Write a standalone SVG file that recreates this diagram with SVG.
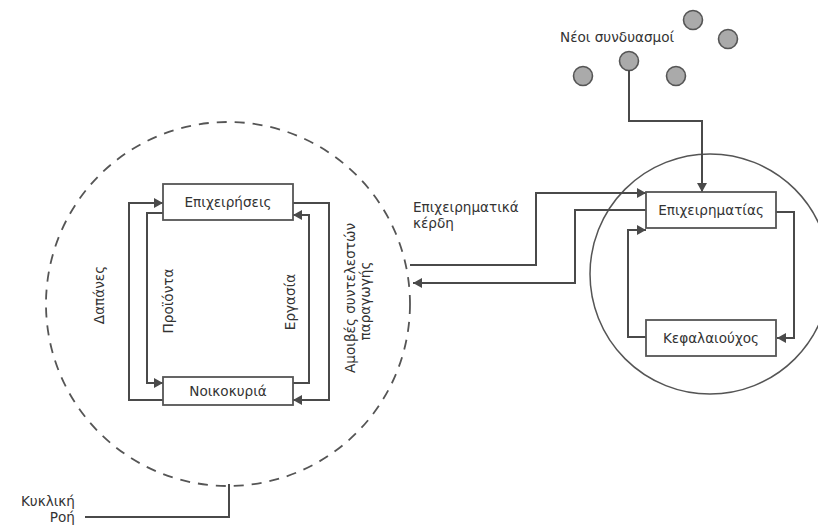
<svg xmlns="http://www.w3.org/2000/svg" width="818" height="527" viewBox="0 0 818 527">
<style>
text{font-family:"DejaVu Sans","Noto Sans",sans-serif;font-size:13.6px;fill:#333}
.box{fill:#fff;stroke:#555;stroke-width:1.8}
.c{fill:none;stroke:#4a4a4a;stroke-width:2}
.dot{fill:#aaa;stroke:#555;stroke-width:1.6}
</style>
<defs>
<marker id="ah" markerUnits="userSpaceOnUse" markerWidth="9" markerHeight="10" refX="9" refY="5" orient="auto">
<path d="M0,0 L9,5 L0,10 z" fill="#4a4a4a"/>
</marker>
</defs>
<g id="cyclic-area">
<circle cx="228" cy="304" r="182" fill="none" stroke="#555" stroke-width="1.8" stroke-dasharray="10,8"/>
</g>
<g id="entrepreneur-area">
<circle cx="710" cy="274" r="120" fill="none" stroke="#555" stroke-width="1.5"/>
</g>
<g id="new-combinations">
<circle class="dot" cx="693" cy="20" r="9.5"/>
<circle class="dot" cx="728" cy="39" r="9.5"/>
<circle class="dot" cx="629" cy="61" r="9.5"/>
<circle class="dot" cx="583" cy="76" r="9.5"/>
<circle class="dot" cx="676" cy="76" r="9.5"/>
<text x="560" y="42">Νέοι συνδυασμοί</text>
</g>
<g id="connectors">
<path class="c" d="M163,400 H129 V203 H163" marker-end="url(#ah)"/>
<path class="c" d="M163,213 H147 V383 H163" marker-end="url(#ah)"/>
<path class="c" d="M293,383 H309 V215 H293" marker-end="url(#ah)"/>
<path class="c" d="M293,203 H329 V400 H293" marker-end="url(#ah)"/>
<path class="c" d="M410,265 H536 V193 H646" marker-end="url(#ah)"/>
<path class="c" d="M646,210 H575 V283 H413" marker-end="url(#ah)"/>
<path class="c" d="M776,212 H794 V338 H777" marker-end="url(#ah)"/>
<path class="c" d="M646,337 H628 V230 H646" marker-end="url(#ah)"/>
<path class="c" d="M629,70 V121 H702 V192" marker-end="url(#ah)"/>
<path class="c" d="M229,484 V517 H85"/>
</g>
<g id="firms">
<rect class="box" x="163" y="184" width="130" height="36"/>
<text x="228" y="207" text-anchor="middle">Επιχειρήσεις</text>
</g>
<g id="households">
<rect class="box" x="163" y="377" width="130" height="28"/>
<text x="228" y="396" text-anchor="middle">Νοικοκυριά</text>
</g>
<g id="entrepreneur">
<rect class="box" x="646" y="192" width="130" height="36"/>
<text x="711" y="215" text-anchor="middle">Επιχειρηματίας</text>
</g>
<g id="capitalist">
<rect class="box" x="646" y="320" width="130" height="36"/>
<text x="711" y="343" text-anchor="middle">Κεφαλαιούχος</text>
</g>
<g id="labels">
<text transform="translate(104,295) rotate(-90)" text-anchor="middle">Δαπάνες</text>
<text transform="translate(173,301) rotate(-90)" text-anchor="middle">Προϊόντα</text>
<text transform="translate(295,302) rotate(-90)" text-anchor="middle">Εργασία</text>
<text transform="translate(355,298) rotate(-90)" text-anchor="middle">Αμοιβές συντελεστών</text>
<text transform="translate(370,301) rotate(-90)" text-anchor="middle">παραγωγής</text>
<text x="413" y="212">Επιχειρηματικά</text>
<text x="413" y="228">κέρδη</text>
<text x="75" y="506" text-anchor="end">Κυκλική</text>
<text x="75" y="522" text-anchor="end">Ροή</text>
</g>
</svg>
